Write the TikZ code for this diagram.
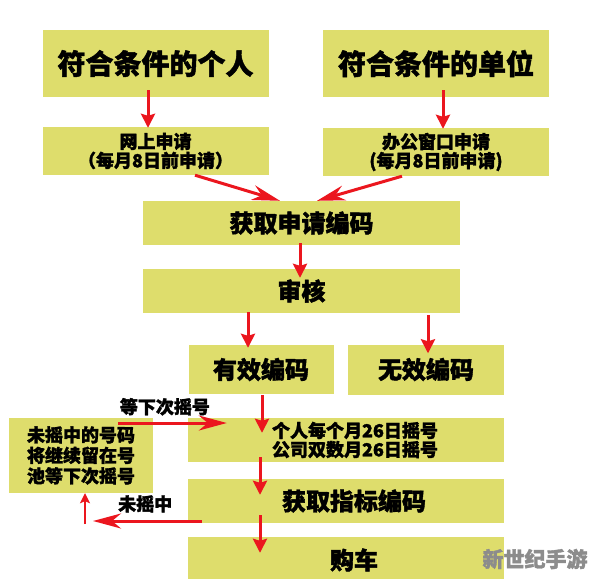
\documentclass[tikz,border=0pt]{standalone}
\usepackage{fontspec}
\setmainfont{Noto Sans CJK SC}[BoldFeatures={FakeBold=1.6}]
\usetikzlibrary{arrows.meta}
\definecolor{boxyellow}{RGB}{222,221,108}
\definecolor{arrowred}{RGB}{235,22,30}
\newcommand{\fsbig}{\bfseries\fontsize{28}{30}\selectfont}
\newcommand{\fsmid}{\bfseries\fontsize{24}{26}\selectfont}
\newcommand{\fssmall}{\bfseries\fontsize{18}{19}\selectfont}

\begin{document}
\begin{tikzpicture}[x=1pt,y=-1pt,
  box/.style={fill=boxyellow,inner sep=0pt,align=center},
  arr/.style={arrowred,line width=3pt,-{Stealth[length=14pt,width=14pt,inset=2pt]}},
  longarr/.style={arrowred,line width=3pt,-{Stealth[length=28pt,width=15pt,inset=9pt]}},
  thinarr/.style={arrowred,line width=2pt,-{Stealth[length=10pt,width=10pt,inset=2pt]}},
  lbl/.style={font=\fssmall,text=black,inner sep=0pt}]
\useasboundingbox (0,0) rectangle (594,578);
% who applies
\node[box,minimum width=226pt,minimum height=67pt,font=\fsbig] (person) at (155.5,63.5) {符合条件的个人};
\node[box,minimum width=226pt,minimum height=67pt,font=\fsbig] (unit) at (436,63.5) {符合条件的单位};
\node[box,minimum width=226pt,minimum height=48pt,font=\fssmall] (online) at (155.5,151) {网上申请\\（每月8日前申请）};
\node[box,minimum width=226pt,minimum height=48pt,font=\fssmall] (office) at (436,152) {办公窗口申请\\(每月8日前申请)};
% review
\node[box,minimum width=317pt,minimum height=44pt,font=\fsmid] (code) at (301.5,223) {获取申请编码};
\node[box,minimum width=317pt,minimum height=44pt,font=\fsmid] (check) at (301.5,291) {审核};
\node[box,minimum width=145pt,minimum height=49pt,font=\fsmid] (valid) at (261,369.5) {有效编码};
\node[box,minimum width=156pt,minimum height=50pt,font=\fsmid] (invalid) at (426,369.5) {无效编码};
% lottery
\node[box,minimum width=316pt,minimum height=44pt] (draw) at (346,440) {};
\node[font=\fssmall,align=left,inner sep=0pt] (drawtxt) at (355,440) {个人每个月26日摇号\\公司双数月26日摇号};
\node[box,minimum width=316pt,minimum height=44pt] (quota) at (346,501) {};
\node[font=\fsmid,inner sep=0pt] (quotatxt) at (354,501) {获取指标编码};
\node[box,minimum width=316pt,minimum height=46pt] (car) at (346,560) {};
\node[font=\fsmid,inner sep=0pt] (cartxt) at (354,560) {购车};
\node[box,minimum width=144pt,minimum height=75pt,font=\bfseries\fontsize{18}{20.5}\selectfont] (pool) at (81,455.5) {未摇中的号码\\将继续留在号\\池等下次摇号};

\draw[arr] ([shift={(-7.5,-7)}]person.south) -- ([shift={(-7.5,1)}]online.north);
\draw[arr] ([shift={(7,-7)}]unit.south) -- ([shift={(7,1)}]office.north);
\draw[longarr] ([shift={(39.5,0)}]online.south) -- ([shift={(-21.5,0)}]code.north);
\draw[longarr] ([shift={(-34,0)}]office.south) -- ([shift={(15.5,0)}]code.north);
\draw[arr] ([shift={(-1.5,-2)}]code.south) -- ([shift={(-1.5,9)}]check.north);
\draw[arr] ([shift={(-53.5,-1)}]check.south) -- ([shift={(-13,3)}]valid.north);
\draw[arr] ([shift={(126.5,2)}]check.south) -- ([shift={(2,9)}]invalid.north);
\draw[arr] ([shift={(1,1)}]valid.south) -- ([shift={(-84,15)}]draw.north);
\draw[arr] ([shift={(-86,-5)}]draw.south) -- ([shift={(-86,16)}]quota.north);
\draw[arr] ([shift={(-86,-8)}]quota.south) -- ([shift={(-86,16)}]car.north);
\draw[longarr] ([shift={(-35,-32.5)}]pool.east) -- node[lbl,above=6pt,pos=0.43] {等下次摇号} ([shift={(39,-17)}]draw.west);
\coordinate (miss) at (93,521);
\draw[longarr] ([shift={(14,20)}]quota.west) -- node[lbl,above=7pt,pos=0.52] {未摇中} (miss);
\coordinate (up) at (85,524);
\draw[thinarr] (up) -- ([shift={(4,0)}]pool.south);

\node[text=black!45,font=\bfseries\fontsize{21}{21}\selectfont] (mark) at (535,559) {新世纪手游};
\end{tikzpicture}
\end{document}
